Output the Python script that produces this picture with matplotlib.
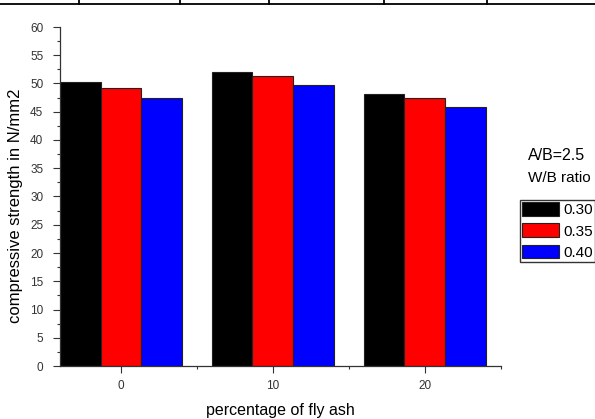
import numpy as np
import matplotlib.pyplot as plt
from matplotlib.lines import Line2D
from matplotlib.ticker import MultipleLocator

plt.rcParams['font.family'] = ['Liberation Sans', 'DejaVu Sans']

fly_ash = [0, 10, 20]
wb_labels = ['0.30', '0.35', '0.40']
strength_030 = [50.3, 52.1, 48.1]
strength_035 = [49.2, 51.4, 47.4]
strength_040 = [47.4, 49.8, 45.8]
bar_colors = ['black', 'red', 'blue']

fig = plt.figure(figsize=(5.95, 4.19), dpi=100)
ax = fig.add_axes([60 / 595, 1 - 366 / 419, (500.7 - 60) / 595, (366 - 27) / 419])

# table border left over from the document at the very top
fig.add_artist(Line2D([0, 1], [1 - 4.5 / 419] * 2, color='black', lw=1.3))
for xs in [78.6, 180, 269, 384, 487]:
    fig.add_artist(Line2D([xs / 595] * 2, [1, 1 - 4.5 / 419], color='black', lw=1.3))

x = np.array(fly_ash, dtype=float)
w = 8 / 3
series = [strength_030, strength_035, strength_040]
for i, vals in enumerate(series):
    ax.bar(x + (i - 1) * w, vals, width=w, color=bar_colors[i], edgecolor='#222222',
           linewidth=0.8, label=wb_labels[i])

ax.set_xlim(-4, 25)
ax.set_ylim(0, 60)
ax.set_xticks(fly_ash)
ax.xaxis.set_minor_locator(MultipleLocator(5))
ax.yaxis.set_major_locator(MultipleLocator(5))
ax.yaxis.set_minor_locator(MultipleLocator(2.5))
ax.spines['top'].set_visible(False)
ax.spines['right'].set_visible(False)
for s in ['left', 'bottom']:
    ax.spines[s].set_color('#333333')
    ax.spines[s].set_linewidth(0.9)
ax.tick_params(which='major', length=5, width=0.8, color='#333333', labelsize=8.5,
               labelcolor='#333333')
ax.tick_params(which='minor', length=2.5, width=0.8, color='#333333')
ax.tick_params(axis='x', which='major', pad=5)
ax.tick_params(axis='y', which='major', pad=7)
ax.set_xlabel('percentage of fly ash', fontsize=11.5, labelpad=8)
ax.set_ylabel('compressive strength in N/mm2', fontsize=12, labelpad=5, y=0.473)

fig.text(557 / 595, 1 - 155 / 419, 'A/B=2.5', fontsize=11.5, ha='center', va='center')
fig.text(559.5 / 595, 1 - 178 / 419, 'W/B ratio', fontsize=11, ha='center', va='center')
leg = fig.legend(loc='upper left', bbox_to_anchor=(520 / 595, 1 - 200 / 419),
                 fontsize=11, frameon=True, fancybox=False, edgecolor='black',
                 handlelength=2.4, handleheight=1.0, handletextpad=0.3,
                 borderpad=0.15, labelspacing=0.4, borderaxespad=0)
leg.get_frame().set_linewidth(1.0)

fig.savefig('out.png', dpi=100)
